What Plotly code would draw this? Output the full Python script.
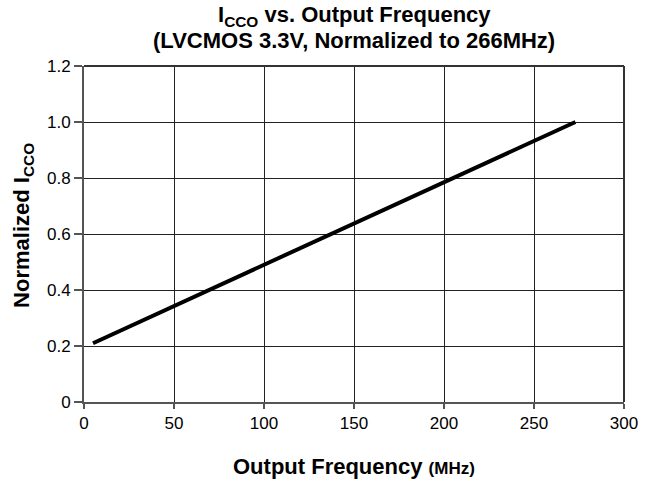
import plotly.graph_objects as go

freq_mhz = [5, 50, 100, 150, 200, 250, 273]
norm_icco = [0.21, 0.343, 0.49, 0.638, 0.785, 0.933, 1.0]

x_ticks = [0, 50, 100, 150, 200, 250, 300]
y_ticks = [0, 0.2, 0.4, 0.6, 0.8, 1.0, 1.2]
y_tick_labels = ["0", "0.2", "0.4", "0.6", "0.8", "1.0", "1.2"]

title_line1 = "<b>I<sub>CCO</sub> vs. Output Frequency</b>"
title_line2 = "<b>(LVCMOS 3.3V, Normalized to 266MHz)</b>"
x_title = "<b>Output Frequency <span style='font-size:17px'>(MHz)</span></b>"
y_title = "<b>Normalized I<sub>CCO</sub></b>"

FONT = "Liberation Sans, Arial, Helvetica, sans-serif"

fig = go.Figure()
fig.add_trace(go.Scatter(x=freq_mhz, y=norm_icco, mode="lines",
                         line=dict(color="black", width=4), showlegend=False))

fig.update_layout(
    width=653, height=487,
    margin=dict(l=84, r=29, t=66, b=85),
    paper_bgcolor="white", plot_bgcolor="white",
    font=dict(family=FONT, color="black", size=17),
)

fig.update_xaxes(
    range=[0, 300], tickvals=x_ticks, ticktext=[str(v) for v in x_ticks],
    showgrid=True, gridcolor="#222222", gridwidth=1,
    showline=True, linecolor="#555555", linewidth=2,
    ticks="outside", ticklen=5, tickcolor="#555555", tickwidth=2,
    zeroline=False, fixedrange=True,
    tickfont=dict(family=FONT, size=17),
)
fig.update_yaxes(
    range=[0, 1.2], tickvals=y_ticks, ticktext=y_tick_labels,
    showgrid=True, gridcolor="#222222", gridwidth=1,
    showline=True, linecolor="#555555", linewidth=2,
    ticks="outside", ticklen=8, tickcolor="#555555", tickwidth=2,
    zeroline=False, fixedrange=True,
    tickfont=dict(family=FONT, size=17),
)

# top and right frame
fig.add_shape(type="line", xref="paper", yref="paper", x0=0, x1=1, y0=1, y1=1,
              line=dict(color="#333333", width=2))
fig.add_shape(type="line", xref="paper", yref="paper", x0=1, x1=1, y0=0, y1=1,
              line=dict(color="#333333", width=2))

ann_font = dict(family=FONT, size=22, color="black")
fig.add_annotation(text=title_line1, xref="paper", yref="paper", x=0.5, y=1.148,
                   xanchor="center", yanchor="middle", showarrow=False, font=ann_font)
fig.add_annotation(text=title_line2, xref="paper", yref="paper", x=0.5, y=1.077,
                   xanchor="center", yanchor="middle", showarrow=False, font=ann_font)
fig.add_annotation(text=x_title, xref="paper", yref="paper", x=0.5, y=-0.193,
                   xanchor="center", yanchor="middle", showarrow=False, font=ann_font)
fig.add_annotation(text=y_title, xref="paper", yref="paper", x=-0.113, y=0.527,
                   xanchor="center", yanchor="middle", showarrow=False, font=ann_font,
                   textangle=-90)

fig.write_html("out.html", config={"displayModeBar": False},
               post_script="document.body.style.margin='0';")
